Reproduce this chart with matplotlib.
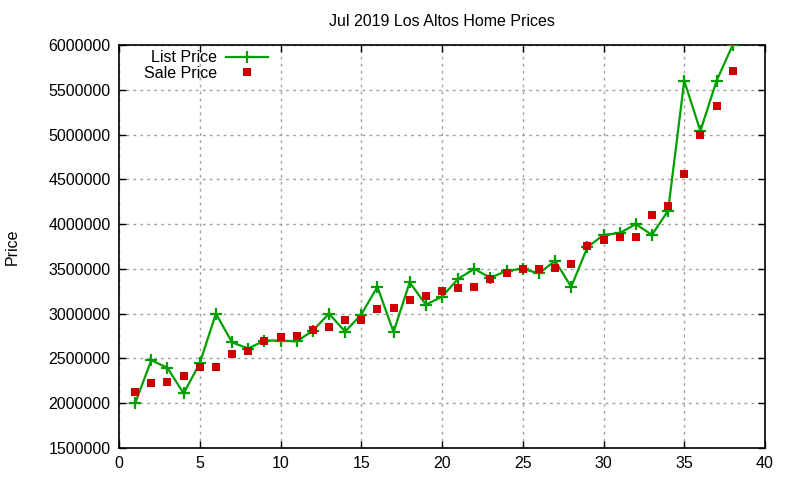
import matplotlib
matplotlib.use("Agg")
import matplotlib.pyplot as plt

plt.rcParams['font.family'] = ['Liberation Sans', 'DejaVu Sans']

x_index = list(range(1, 39))
list_price = [2000000, 2480000, 2395000, 2110000, 2445000, 3000000, 2680000, 2610000, 2700000, 2700000,
              2690000, 2810000, 3000000, 2800000, 2990000, 3300000, 2795000, 3350000, 3100000, 3190000,
              3390000, 3500000, 3400000, 3480000, 3500000, 3450000, 3590000, 3300000, 3740000, 3880000,
              3900000, 4000000, 3880000, 4150000, 5600000, 5040000, 5600000, 6000000]
sale_price = [2125000, 2230000, 2240000, 2300000, 2400000, 2400000, 2550000, 2580000, 2700000, 2740000,
              2750000, 2815000, 2850000, 2925000, 2930000, 3050000, 3060000, 3150000, 3200000, 3250000,
              3285000, 3300000, 3390000, 3450000, 3500000, 3500000, 3515000, 3550000, 3750000, 3820000,
              3860000, 3860000, 4100000, 4200000, 4560000, 5000000, 5315000, 5715000]
title = "Jul 2019 Los Altos Home Prices"
x_ticks = list(range(0, 41, 5))
y_ticks = list(range(1500000, 6000001, 500000))

fig = plt.figure(figsize=(8, 4.8), dpi=100)
ax = fig.add_axes([119/800, 1-448/480, (765-119)/800, (448-45)/480])

ax.plot(x_index, list_price, color='#00a000', lw=1.6, marker='+', ms=9, mew=1.6,
        label='List Price', zorder=3)
ax.plot(x_index, sale_price, color='#cc0000', lw=0, marker='s', ms=6, mew=0,
        label='Sale Price', zorder=4)

ax.set_xlim(0, 40)
ax.set_ylim(1500000, 6000000)
ax.set_xticks(x_ticks)
ax.set_yticks(y_ticks)
ax.set_yticklabels([str(v) for v in y_ticks])
ax.tick_params(direction='in', top=True, right=True, length=5, width=1,
               labelsize=11.5, colors='black', pad=6)
ax.grid(True, color='#a0a0a0', linestyle=(0, (2, 3)), linewidth=1)
for s in ax.spines.values():
    s.set_linewidth(1.2)

ax.set_ylabel('Price', fontsize=11.5, labelpad=21)
fig.text(442/800, 1-21/480, title, ha='center', va='center', fontsize=11.5)

leg = ax.legend(loc='upper left', bbox_to_anchor=(0.033, 0.995), frameon=False,
                markerfirst=False, fontsize=11.5, handlelength=2.6,
                handletextpad=0.6, borderaxespad=0.1, labelspacing=0.05,
                borderpad=0.1)
leg._legend_box.align = 'right'
for t in leg.get_texts():
    t.set_ha('right')

fig.savefig('out.png', dpi=100)
